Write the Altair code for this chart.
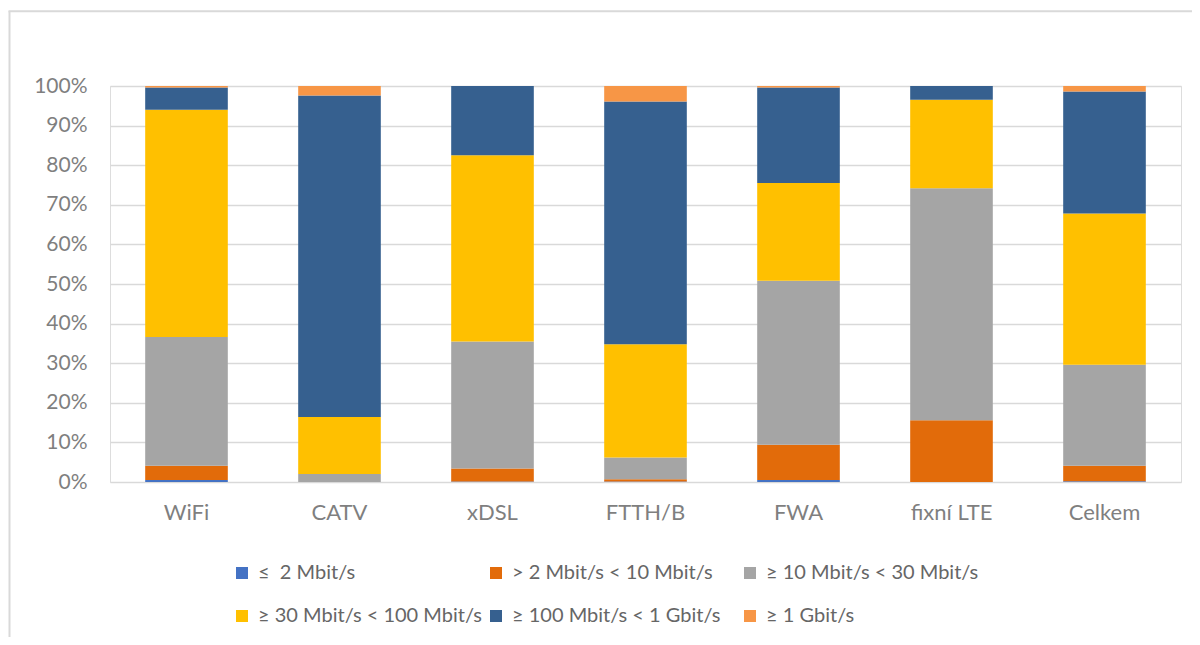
import altair as alt
import pandas as pd

categories = ["WiFi", "CATV", "xDSL", "FTTH/B", "FWA", "fixní LTE", "Celkem"]
series = ["≤\u00a0 2 Mbit/s", "> 2 Mbit/s < 10 Mbit/s", "≥ 10 Mbit/s < 30 Mbit/s",
          "≥ 30 Mbit/s < 100 Mbit/s", "≥ 100 Mbit/s < 1 Gbit/s", "≥ 1 Gbit/s"]
colors = ["#4472C4", "#E26B0A", "#A5A5A5", "#FFC000", "#36608F", "#F79646"]

s_le2 = [0.5, 0.0, 0.1, 0.1, 0.5, 0.0, 0.2]
s_2_10 = [3.6, 0.0, 3.3, 0.6, 8.9, 15.6, 3.9]
s_10_30 = [32.5, 2.0, 32.1, 5.5, 41.4, 58.6, 25.5]
s_30_100 = [57.4, 14.4, 47.0, 28.6, 24.7, 22.3, 38.2]
s_100_1g = [5.6, 81.2, 17.5, 61.3, 24.1, 3.5, 30.8]
s_1g = [0.4, 2.4, 0.0, 3.9, 0.4, 0.0, 1.4]

all_series = [s_le2, s_2_10, s_10_30, s_30_100, s_100_1g, s_1g]
rows = []
for si, (name, vals) in enumerate(zip(series, all_series)):
    for cat, v in zip(categories, vals):
        rows.append({"cat": cat, "series": name, "idx": si, "value": v / 100.0})
df = pd.DataFrame(rows)

FONT = "Lato"
AXIS_GREY = "#7f7f7f"
LEG_GREY = "#666666"

bars = alt.Chart(df).mark_bar().encode(
    x=alt.X("cat:N", sort=categories, title=None,
            scale=alt.Scale(paddingInner=0.46, paddingOuter=0.23),
            axis=alt.Axis(labelAngle=0, domain=False, ticks=False, grid=False,
                          labelFont=FONT, labelFontSize=22, labelColor=AXIS_GREY,
                          labelPadding=20)),
    y=alt.Y("value:Q", stack="zero", title=None,
            scale=alt.Scale(domain=[0, 1], nice=False),
            axis=alt.Axis(values=[i / 10 for i in range(11)], format=".0%",
                          domain=False, ticks=False, grid=True,
                          gridColor="#d9d9d9", gridWidth=1.3,
                          labelFont=FONT, labelFontSize=21, labelColor=AXIS_GREY,
                          labelPadding=23)),
    color=alt.Color("series:N", sort=series,
                    scale=alt.Scale(domain=series, range=colors),
                    legend=alt.Legend(title=None, orient="none", legendX=122, legendY=477,
                                      direction="horizontal", columns=3,
                                      gridAlign="all", columnPadding=4, rowPadding=23,
                                      symbolType="square", symbolSize=144,
                                      symbolStrokeWidth=0, labelOffset=6,
                                      labelFont=FONT, labelFontSize=20,
                                      labelColor=LEG_GREY, labelLimit=400)),
    order=alt.Order("idx:Q", sort="ascending"),
)

one = pd.DataFrame({"a": [0]})
vline = alt.Chart(one).mark_rule(color="#d9d9d9", strokeWidth=2).encode(
    x=alt.value(-100.5), y=alt.value(-75), y2=alt.value(600))
hline = alt.Chart(one).mark_rule(color="#d9d9d9", strokeWidth=2).encode(
    y=alt.value(-74.7), x=alt.value(-101.5), x2=alt.value(1120))

chart = alt.layer(bars, vline, hline).properties(
    width=1071, height=396,
    autosize=alt.AutoSizeParams(type="none"),
    padding={"left": 102, "top": 78, "right": 11, "bottom": 155},
).configure_view(stroke=None).configure(background="white")

chart.save("out.html", embed_options={"renderer": "svg", "actions": False})
